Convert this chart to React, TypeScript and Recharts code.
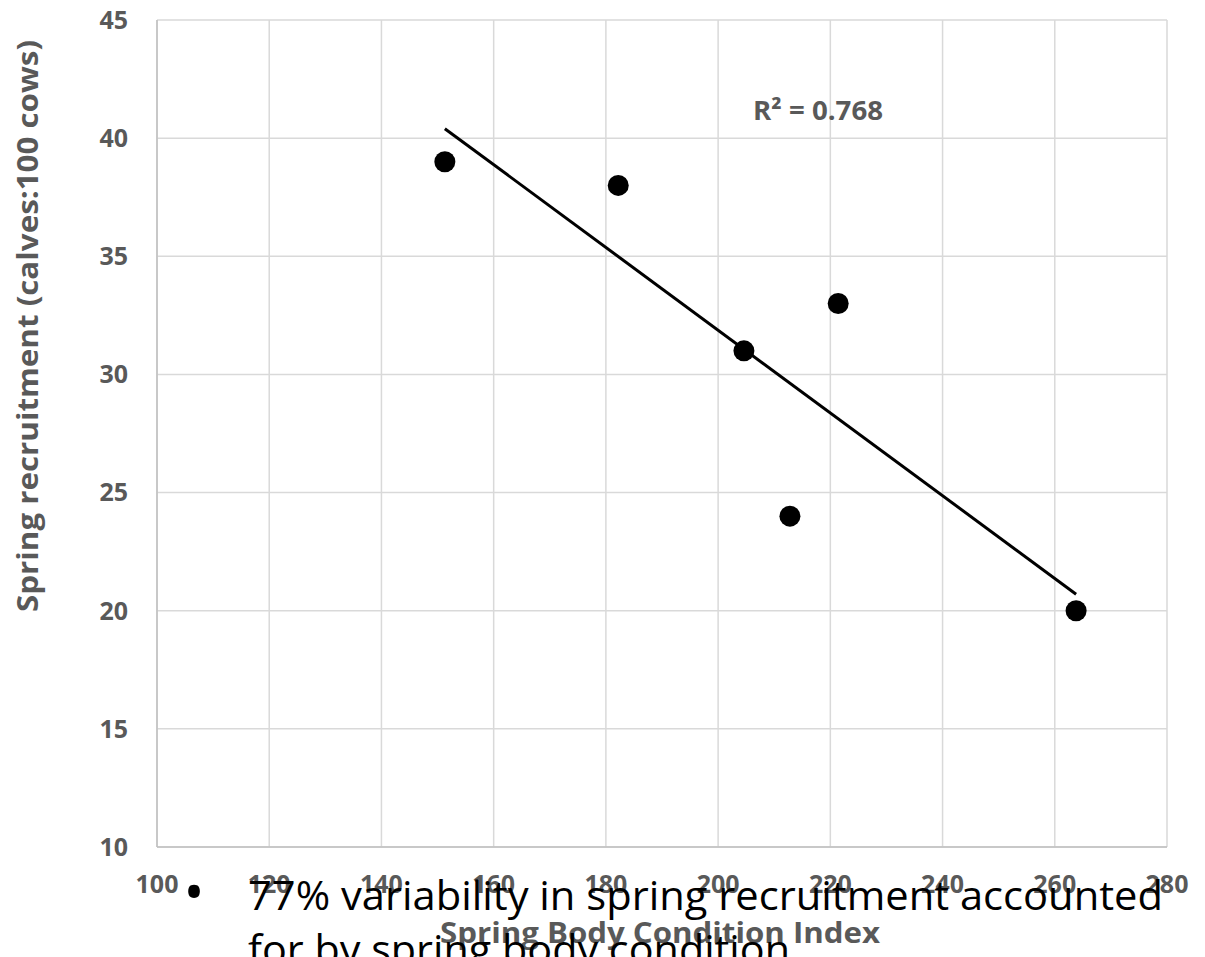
import React from "react";
import {
  ComposedChart,
  Scatter,
  XAxis,
  YAxis,
  CartesianGrid,
  Label,
} from "recharts";

// Observations (Spring Body Condition Index vs recruitment)
const bodyCondition = [151.3, 182.2, 204.6, 221.4, 212.8, 263.8];
const recruitment = [39, 38, 31, 33, 24, 20];

// Linear trendline endpoints (as drawn)
const trendX = [151.3, 263.8];
const trendY = [40.4, 20.7];

const xTicks = [100, 120, 140, 160, 180, 200, 220, 240, 260, 280];
const yTicks = [10, 15, 20, 25, 30, 35, 40, 45];

const xTitle = "Spring Body Condition Index";
const yTitle = "Spring recruitment (calves:100 cows)";
const r2Text = "R² = 0.768";
const noteLine1 = "77% variability in spring recruitment accounted";
const noteLine2 = "for by spring body condition";

const points = bodyCondition.map((x, i) => ({ x, y: recruitment[i] }));
const trend = trendX.map((x, i) => ({ x, y: trendY[i] }));

const FONT = "'Open Sans', 'DejaVu Sans', sans-serif";
const GRAY = "#595959";

const Dot = (props: any) => {
  const { cx, cy } = props;
  if (cx == null || cy == null) return <g />;
  return <circle cx={cx} cy={cy} r={10.5} fill="#000" />;
};

const NoShape = () => <g />;

export default function App() {
  return (
    <div
      style={{
        position: "absolute",
        left: 0,
        top: 0,
        width: 1205,
        height: 957,
        background: "#fff",
        overflow: "hidden",
      }}
    >
      <ComposedChart
        width={1205}
        height={957}
        margin={{ top: 20, right: 38, left: 0, bottom: 60 }}
      >
        <CartesianGrid stroke="#d9d9d9" strokeWidth={1.5} />
        <XAxis
          type="number"
          dataKey="x"
          domain={[100, 280]}
          ticks={xTicks}
          interval={0}
          allowDataOverflow
          height={50}
          tickLine={false}
          tickSize={0}
          tickMargin={28}
          axisLine={{ stroke: "#bfbfbf", strokeWidth: 1.5 }}
          tick={{ fill: GRAY, fontSize: 25, fontWeight: 700, fontFamily: FONT }}
        >
          <Label
            content={() => (
              <text
                x={440}
                y={943}
                fill={GRAY}
                fontSize={28}
                fontWeight={700}
                fontFamily={FONT}
                textLength={440}
                lengthAdjust="spacingAndGlyphs"
              >
                {xTitle}
              </text>
            )}
          />
        </XAxis>
        <YAxis
          type="number"
          dataKey="y"
          domain={[10, 45]}
          ticks={yTicks}
          interval={0}
          allowDataOverflow
          width={157}
          tickLine={false}
          tickSize={0}
          tickMargin={29}
          axisLine={{ stroke: "#bfbfbf", strokeWidth: 1.5 }}
          tick={{ fill: GRAY, fontSize: 25, fontWeight: 700, fontFamily: FONT }}
        >
          <Label
            content={() => (
              <text
                x={38}
                y={612}
                transform="rotate(-90 38 612)"
                fill={GRAY}
                fontSize={28}
                fontWeight={700}
                fontFamily={FONT}
                textLength={572}
                lengthAdjust="spacingAndGlyphs"
              >
                {yTitle}
              </text>
            )}
          />
        </YAxis>
        <Scatter
          data={trend}
          line={{ stroke: "#000", strokeWidth: 3 }}
          shape={NoShape}
          isAnimationActive={false}
        />
        <Scatter data={points} shape={Dot} isAnimationActive={false} />
      </ComposedChart>
      <svg
        width={1205}
        height={957}
        style={{ position: "absolute", left: 0, top: 0, pointerEvents: "none" }}
      >
        <text
          x={753}
          y={120}
          fill={GRAY}
          fontSize={27}
          fontWeight={700}
          fontFamily={FONT}
          textLength={130}
          lengthAdjust="spacingAndGlyphs"
        >
          {r2Text}
        </text>
        <text x={194} y={912} textAnchor="middle" fill="#000" fontSize={56} fontFamily={FONT}>
          •
        </text>
        <text
          x={248}
          y={910}
          fill="#000"
          fontSize={41}
          fontFamily={FONT}
          textLength={915}
          lengthAdjust="spacingAndGlyphs"
        >
          {noteLine1}
        </text>
        <text
          x={248}
          y={964}
          fill="#000"
          fontSize={41}
          fontFamily={FONT}
          textLength={542}
          lengthAdjust="spacingAndGlyphs"
        >
          {noteLine2}
        </text>
      </svg>
    </div>
  );
}
